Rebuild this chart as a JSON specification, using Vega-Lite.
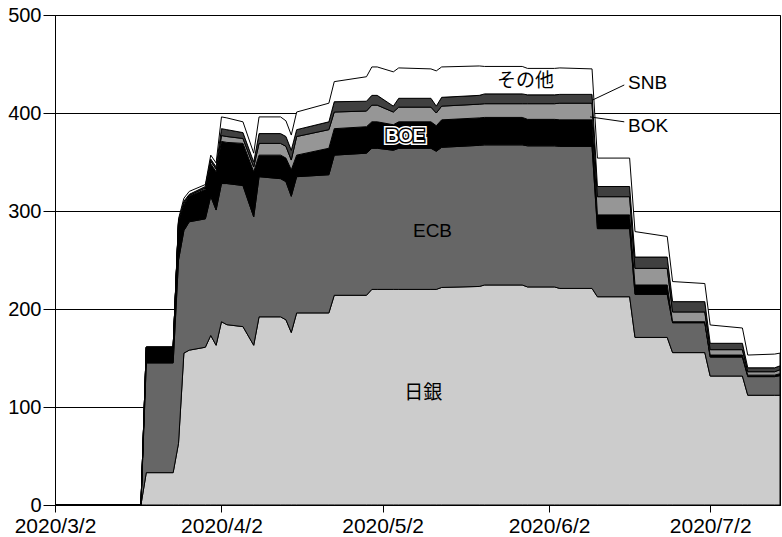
{
  "$schema": "https://vega.github.io/schema/vega-lite/v6.json",
  "width": 725,
  "height": 490,
  "autosize": "none",
  "padding": {"left": 55, "top": 15, "right": 2, "bottom": 32},
  "background": "white",
  "config": {"view": {"stroke": "black", "strokeWidth": 1}},
  "layer": [
    {
      "data": {"values": [
        {"date": "2020-03-02", "日銀": 0, "ECB": 0, "BOE": 0, "BOK": 0, "SNB": 0, "その他": 0},
        {"date": "2020-03-18", "日銀": 0, "ECB": 0, "BOE": 0, "BOK": 0, "SNB": 0, "その他": 0},
        {"date": "2020-03-19", "日銀": 33, "ECB": 112, "BOE": 16, "BOK": 0, "SNB": 0, "その他": 0},
        {"date": "2020-03-24", "日銀": 33, "ECB": 112, "BOE": 16, "BOK": 0, "SNB": 0, "その他": 0},
        {"date": "2020-03-25", "日銀": 63, "ECB": 187, "BOE": 38, "BOK": 1, "SNB": 1, "その他": 2},
        {"date": "2020-03-26", "日銀": 155, "ECB": 125, "BOE": 26, "BOK": 2, "SNB": 2, "その他": 3},
        {"date": "2020-03-27", "日銀": 158, "ECB": 131, "BOE": 26, "BOK": 1, "SNB": 1, "その他": 3},
        {"date": "2020-03-30", "日銀": 161, "ECB": 131, "BOE": 30, "BOK": 1.5, "SNB": 1.5, "その他": 2},
        {"date": "2020-03-31", "日銀": 173, "ECB": 142, "BOE": 33, "BOK": 3, "SNB": 2, "その他": 4},
        {"date": "2020-04-01", "日銀": 163, "ECB": 138, "BOE": 39, "BOK": 3, "SNB": 2, "その他": 4},
        {"date": "2020-04-02", "日銀": 187, "ECB": 141, "BOE": 43, "BOK": 6, "SNB": 7, "その他": 12},
        {"date": "2020-04-03", "日銀": 184, "ECB": 144, "BOE": 42, "BOK": 6, "SNB": 7, "その他": 12},
        {"date": "2020-04-06", "日銀": 182, "ECB": 144, "BOE": 43, "BOK": 5, "SNB": 6, "その他": 11},
        {"date": "2020-04-08", "日銀": 163, "ECB": 131, "BOE": 46, "BOK": 5, "SNB": 5, "その他": 9},
        {"date": "2020-04-09", "日銀": 192, "ECB": 143, "BOE": 22, "BOK": 12, "SNB": 10, "その他": 17},
        {"date": "2020-04-13", "日銀": 192, "ECB": 141, "BOE": 24, "BOK": 12, "SNB": 10, "その他": 17},
        {"date": "2020-04-14", "日銀": 189, "ECB": 141, "BOE": 24, "BOK": 12, "SNB": 10, "その他": 16},
        {"date": "2020-04-15", "日銀": 176, "ECB": 139, "BOE": 27, "BOK": 10, "SNB": 10, "その他": 15.5},
        {"date": "2020-04-16", "日銀": 196, "ECB": 139, "BOE": 22, "BOK": 19, "SNB": 7, "その他": 18},
        {"date": "2020-04-22", "日銀": 196, "ECB": 141, "BOE": 27, "BOK": 19, "SNB": 8, "その他": 19},
        {"date": "2020-04-23", "日銀": 214, "ECB": 143, "BOE": 27, "BOK": 17, "SNB": 10.5, "その他": 20.5},
        {"date": "2020-04-29", "日銀": 214, "ECB": 145, "BOE": 27, "BOK": 16, "SNB": 10, "その他": 25},
        {"date": "2020-04-30", "日銀": 220, "ECB": 144, "BOE": 27, "BOK": 17, "SNB": 10, "その他": 29},
        {"date": "2020-05-01", "日銀": 220, "ECB": 144, "BOE": 27, "BOK": 17, "SNB": 10, "その他": 29},
        {"date": "2020-05-04", "日銀": 220, "ECB": 142, "BOE": 26, "BOK": 13, "SNB": 6, "その他": 35},
        {"date": "2020-05-05", "日銀": 220, "ECB": 144, "BOE": 27, "BOK": 15, "SNB": 9, "その他": 31},
        {"date": "2020-05-11", "日銀": 220, "ECB": 144, "BOE": 27, "BOK": 15, "SNB": 9, "その他": 30},
        {"date": "2020-05-12", "日銀": 220, "ECB": 141, "BOE": 26, "BOK": 13, "SNB": 7, "その他": 36},
        {"date": "2020-05-13", "日銀": 222, "ECB": 143, "BOE": 28, "BOK": 14, "SNB": 9, "その他": 31},
        {"date": "2020-05-20", "日銀": 223, "ECB": 144, "BOE": 28, "BOK": 14, "SNB": 9, "その他": 30},
        {"date": "2020-05-21", "日銀": 224.5, "ECB": 143, "BOE": 28, "BOK": 14, "SNB": 10, "その他": 28},
        {"date": "2020-05-28", "日銀": 224.5, "ECB": 143, "BOE": 28, "BOK": 14, "SNB": 10, "その他": 28},
        {"date": "2020-05-29", "日銀": 222.5, "ECB": 144, "BOE": 27, "BOK": 16, "SNB": 9, "その他": 27},
        {"date": "2020-06-03", "日銀": 222.5, "ECB": 144, "BOE": 27, "BOK": 16, "SNB": 9, "その他": 27},
        {"date": "2020-06-04", "日銀": 221, "ECB": 145, "BOE": 27, "BOK": 17, "SNB": 9, "その他": 27},
        {"date": "2020-06-10", "日銀": 221, "ECB": 145, "BOE": 27, "BOK": 17, "SNB": 9, "その他": 26},
        {"date": "2020-06-11", "日銀": 212.5, "ECB": 69.5, "BOE": 14, "BOK": 18.6, "SNB": 10.4, "その他": 29},
        {"date": "2020-06-17", "日銀": 212.5, "ECB": 69.5, "BOE": 14, "BOK": 18.6, "SNB": 10.4, "その他": 29},
        {"date": "2020-06-18", "日銀": 171, "ECB": 44, "BOE": 9.5, "BOK": 17, "SNB": 11.5, "その他": 26},
        {"date": "2020-06-24", "日銀": 171, "ECB": 44, "BOE": 9.5, "BOK": 17, "SNB": 11.5, "その他": 21},
        {"date": "2020-06-25", "日銀": 155.5, "ECB": 30.5, "BOE": 1, "BOK": 10, "SNB": 10.5, "その他": 20.5},
        {"date": "2020-07-01", "日銀": 155.5, "ECB": 30.5, "BOE": 1, "BOK": 10, "SNB": 10.5, "その他": 18.5},
        {"date": "2020-07-02", "日銀": 131.6, "ECB": 19.4, "BOE": 2, "BOK": 5.5, "SNB": 6.5, "その他": 18.7},
        {"date": "2020-07-08", "日銀": 131.6, "ECB": 19.4, "BOE": 2, "BOK": 5.5, "SNB": 6.5, "その他": 15.6},
        {"date": "2020-07-09", "日銀": 112, "ECB": 19, "BOE": 1.5, "BOK": 3.5, "SNB": 4, "その他": 13},
        {"date": "2020-07-14", "日銀": 112, "ECB": 19, "BOE": 1.5, "BOK": 3.5, "SNB": 4, "その他": 14},
        {"date": "2020-07-15", "日銀": 112, "ECB": 20, "BOE": 2, "BOK": 4, "SNB": 4, "その他": 13}
      ]},
      "transform": [
        {"fold": ["日銀", "ECB", "BOE", "BOK", "SNB", "その他"], "as": ["series", "value"]},
        {"lookup": "series", "from": {"data": {"values": [
          {"series": "日銀", "rank": 1},
          {"series": "ECB", "rank": 2},
          {"series": "BOE", "rank": 3},
          {"series": "BOK", "rank": 4},
          {"series": "SNB", "rank": 5},
          {"series": "その他", "rank": 6}
        ]}, "key": "series", "fields": ["rank"]}}
      ],
      "mark": {"type": "area", "stroke": "black", "strokeWidth": 1, "strokeJoin": "miter"},
      "encoding": {
        "x": {
          "field": "date", "type": "temporal",
          "scale": {"type": "utc", "domain": [{"year": 2020, "month": 3, "date": 2, "utc": true}, {"year": 2020, "month": 7, "date": 15, "utc": true}]},
          "axis": {
            "title": null, "grid": false,
            "values": [
              {"year": 2020, "month": 3, "date": 2, "utc": true},
              {"year": 2020, "month": 4, "date": 2, "utc": true},
              {"year": 2020, "month": 5, "date": 2, "utc": true},
              {"year": 2020, "month": 6, "date": 2, "utc": true},
              {"year": 2020, "month": 7, "date": 2, "utc": true}
            ],
            "labelExpr": "utcFormat(datum.value, '%Y/%-m/%-d')",
            "domainColor": "black", "tickColor": "black", "tickSize": 7,
            "labelFont": "Liberation Sans", "labelFontSize": 21, "labelColor": "black",
            "labelPadding": 3, "labelOverlap": false, "labelFlush": false
          }
        },
        "y": {
          "field": "value", "type": "quantitative", "stack": "zero",
          "scale": {"domain": [0, 500]},
          "axis": {
            "title": null, "values": [0, 100, 200, 300, 400, 500],
            "grid": true, "gridColor": "black", "gridOpacity": 1, "gridWidth": 1,
            "domainColor": "black", "tickColor": "black", "tickSize": 12,
            "labelFont": "Liberation Sans", "labelFontSize": 20, "labelColor": "black",
            "labelPadding": 2
          }
        },
        "color": {
          "field": "series", "type": "nominal",
          "scale": {"domain": ["日銀", "ECB", "BOE", "BOK", "SNB", "その他"], "range": ["#cccccc", "#666666", "#000000", "#969696", "#404040", "#ffffff"]},
          "legend": null
        },
        "order": {"field": "rank", "type": "quantitative", "sort": "ascending"}
      }
    },
    {
      "data": {"values": [
        {"d1": "2020-06-10", "v1": 413, "d2": "2020-06-16", "v2": 428.6},
        {"d1": "2020-06-09T15:00:00Z", "v1": 396, "d2": "2020-06-16", "v2": 391}
      ]},
      "mark": {"type": "rule", "color": "black", "strokeWidth": 1},
      "encoding": {
        "x": {"field": "d1", "type": "temporal"},
        "x2": {"field": "d2"},
        "y": {"field": "v1", "type": "quantitative"},
        "y2": {"field": "v2"}
      }
    },
    {
      "data": {"values": [
        {"date": "2020-05-28T15:00:00Z", "value": 432.7, "label": "その他"},
        {"date": "2020-05-11T07:00:00Z", "value": 280, "label": "ECB"},
        {"date": "2020-05-09T14:00:00Z", "value": 114, "label": "日銀"}
      ]},
      "mark": {"type": "text", "font": "Liberation Sans, Noto Sans CJK JP", "fontSize": 19, "color": "black", "baseline": "middle", "align": "center"},
      "encoding": {
        "x": {"field": "date", "type": "temporal"},
        "y": {"field": "value", "type": "quantitative", "stack": null},
        "text": {"field": "label"}
      }
    },
    {
      "data": {"values": [
        {"date": "2020-06-16T17:00:00Z", "value": 431, "label": "SNB"},
        {"date": "2020-06-16T17:00:00Z", "value": 387, "label": "BOK"}
      ]},
      "mark": {"type": "text", "font": "Liberation Sans", "fontSize": 19, "color": "black", "baseline": "middle", "align": "left"},
      "encoding": {
        "x": {"field": "date", "type": "temporal"},
        "y": {"field": "value", "type": "quantitative", "stack": null},
        "text": {"field": "label"}
      }
    },
    {
      "data": {"values": [{"date": "2020-05-06T05:00:00Z", "value": 376, "label": "BOE"}]},
      "layer": [
        {"mark": {"type": "text", "font": "Liberation Sans", "fontSize": 18, "fontWeight": "bold", "fill": "white", "stroke": "white", "strokeWidth": 6, "baseline": "middle", "align": "center"}},
        {"mark": {"type": "text", "font": "Liberation Sans", "fontSize": 18, "fontWeight": "bold", "fill": "white", "stroke": "black", "strokeWidth": 3, "baseline": "middle", "align": "center"}},
        {"mark": {"type": "text", "font": "Liberation Sans", "fontSize": 18, "fontWeight": "bold", "fill": "white", "baseline": "middle", "align": "center"}}
      ],
      "encoding": {
        "x": {"field": "date", "type": "temporal"},
        "y": {"field": "value", "type": "quantitative", "stack": null},
        "text": {"field": "label"}
      }
    }
  ]
}
